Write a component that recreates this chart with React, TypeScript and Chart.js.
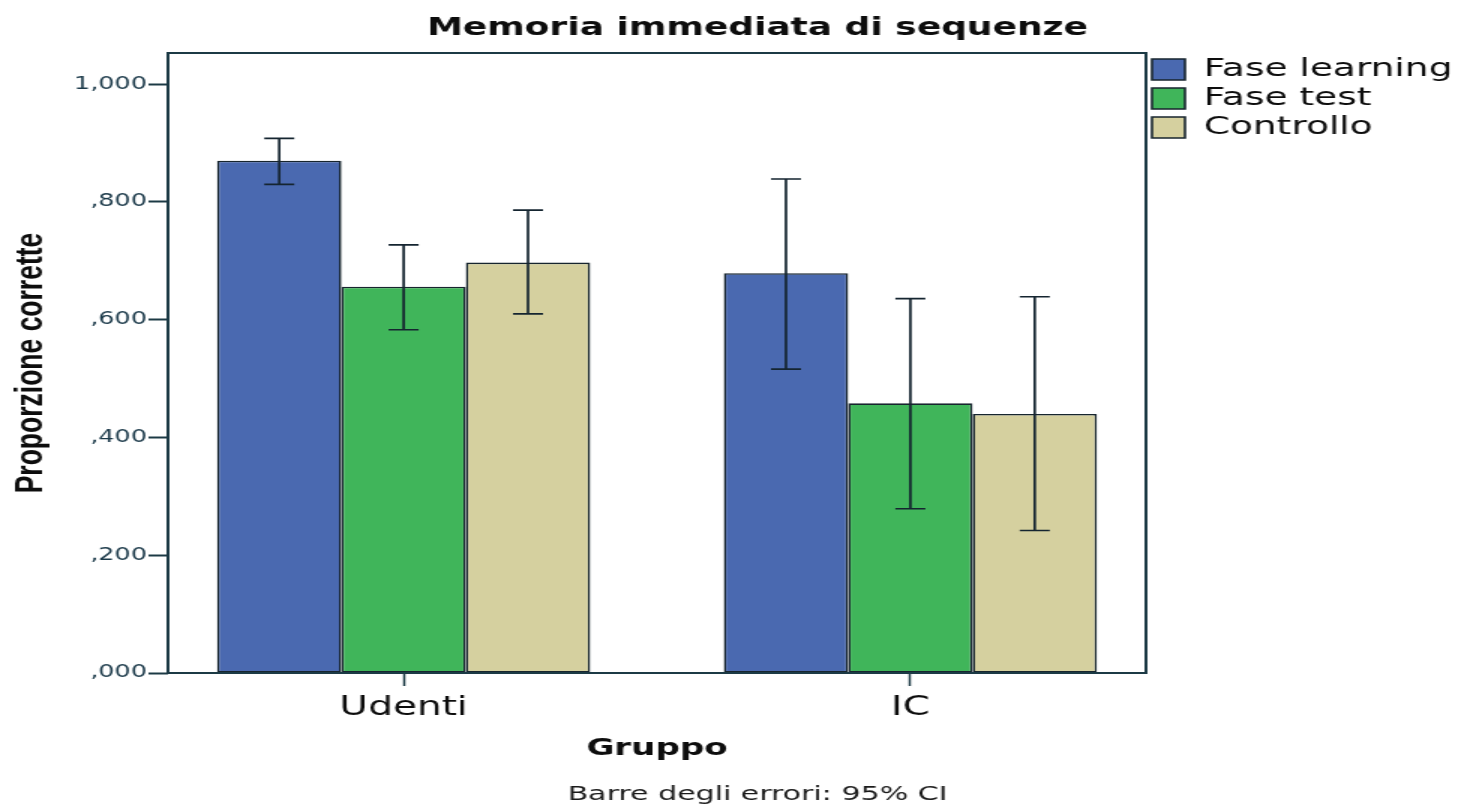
import React, { useEffect, useRef } from "react";
import { Chart, registerables } from "chart.js";

Chart.register(...registerables);

// ---- data ----
const groups = ["Udenti", "IC"];
const seriesLabels = ["Fase learning", "Fase test", "Controllo"];
const faseLearning = [0.870, 0.679];
const faseTest = [0.656, 0.458];
const controllo = [0.697, 0.440];
const faseLearningLow = [0.830, 0.516];
const faseLearningHigh = [0.908, 0.839];
const faseTestLow = [0.583, 0.279];
const faseTestHigh = [0.727, 0.636];
const controlloLow = [0.610, 0.242];
const controlloHigh = [0.786, 0.639];
const yTicks = [0, 0.2, 0.4, 0.6, 0.8, 1.0];
const chartTitle = "Memoria immediata di sequenze";
const footnote = "Barre degli errori: 95% CI";
const xTitle = "Gruppo";
const yTitle = "Proporzione corrette";

// ---- style ----
const colors = ["#4a69b0", "#40b55a", "#d5d09f"];
const frameColor = "#1c3a45";
const textColor = "#0d0d0d";
const S = 1.5; // horizontal stretch of the picture
const CSS_W = 1461;
const CSS_H = 806;
const W = Math.round(CSS_W / S);

const fmt = (v: number) => {
  const s = Number(v).toFixed(3).replace(".", ",");
  return s.startsWith("0") ? s.slice(1) : s;
};

export default function App() {
  const ref = useRef<HTMLCanvasElement | null>(null);

  useEffect(() => {
    const canvas = ref.current;
    if (!canvas) return;
    Chart.defaults.font.family = "'DejaVu Sans', sans-serif";

    const values = [faseLearning, faseTest, controllo];
    const lows = [faseLearningLow, faseTestLow, controlloLow];
    const highs = [faseLearningHigh, faseTestHigh, controlloHigh];

    const errorBars = {
      id: "errorBars",
      afterDatasetsDraw(chart: any) {
        const { ctx } = chart;
        const y = chart.scales.y;
        ctx.save();
        ctx.strokeStyle = "#152530";
        ctx.lineWidth = 1.7;
        values.forEach((_, i) => {
          const meta = chart.getDatasetMeta(i);
          meta.data.forEach((el: any, j: number) => {
            const x = el.x;
            const yl = y.getPixelForValue(lows[i][j]);
            const yh = y.getPixelForValue(highs[i][j]);
            const cap = 10;
            ctx.beginPath();
            ctx.moveTo(x, yl);
            ctx.lineTo(x, yh);
            ctx.moveTo(x - cap, yl);
            ctx.lineTo(x + cap, yl);
            ctx.moveTo(x - cap, yh);
            ctx.lineTo(x + cap, yh);
            ctx.stroke();
          });
        });
        // frame
        const a = chart.chartArea;
        ctx.strokeStyle = frameColor;
        ctx.lineWidth = 2;
        ctx.strokeRect(a.left, a.top, a.right - a.left, a.bottom - a.top);
        ctx.restore();
      },
    };

    const texts = {
      id: "texts",
      afterDraw(chart: any) {
        const { ctx } = chart;
        const cx = chart.width / 2 + 18;
        ctx.save();
        ctx.fillStyle = textColor;
        ctx.textAlign = "center";
        ctx.textBaseline = "middle";
        ctx.font = "bold 24px 'DejaVu Sans', sans-serif";
        ctx.fillText(chartTitle, cx, 29);
        ctx.fillStyle = "#1a1a1a";
        ctx.font = "20px 'DejaVu Sans', sans-serif";
        ctx.fillText(footnote, cx, 795);
        ctx.restore();
      },
    };

    const chart = new Chart(canvas, {
      type: "bar",
      data: {
        datasets: seriesLabels.map((label, i) => ({
          label,
          data: groups.map((_, j) => ({ x: j, y: values[i][j] })),
          backgroundColor: colors[i],
          borderColor: "#17252e",
          borderWidth: 1.6,
          borderSkipped: false,
          categoryPercentage: 0.7364,
          barPercentage: 1,
        })),
      },
      options: {
        animation: false,
        responsive: false,
        devicePixelRatio: 1,
        layout: { padding: { left: 0, right: 0, top: 53, bottom: 38 } },
        scales: {
          x: {
            type: "linear",
            min: -0.465,
            max: 1.465,
            offset: false,
            afterBuildTicks: (s: any) => {
              s.ticks = groups.map((_, i) => ({ value: i }));
            },
            afterFit: (s: any) => {
              s.height = 95;
            },
            ticks: {
              callback: (v: any) => groups[Number(v)] ?? "",
              font: { size: 26 },
              color: textColor,
              padding: 7,
              maxRotation: 0,
              autoSkip: false,
            },
            grid: {
              display: true,
              drawOnChartArea: false,
              drawTicks: true,
              tickLength: 13,
              tickColor: frameColor,
              tickWidth: 1.5,
              offset: false,
            },
            border: { display: false },
            title: {
              display: true,
              text: xTitle,
              font: { weight: "bold", size: 22.7 },
              color: textColor,
              padding: { top: 0, bottom: 5 },
            },
          },
          y: {
            type: "linear",
            min: 0,
            max: 1.053,
            afterBuildTicks: (s: any) => {
              s.ticks = yTicks.map((v) => ({ value: v }));
            },
            afterFit: (s: any) => {
              s.width = 112;
            },
            ticks: {
              callback: (v: any) => fmt(Number(v)),
              font: { size: 17 },
              color: "#1c3a4a",
              padding: 1,
            },
            grid: {
              display: true,
              drawOnChartArea: false,
              drawTicks: true,
              tickLength: 13,
              tickColor: frameColor,
              tickWidth: 2,
            },
            border: { display: false },
            title: {
              display: true,
              text: yTitle,
              font: { family: "'Liberation Sans', Arial, sans-serif", weight: "bold", size: 26.5 },
              color: textColor,
              padding: { top: 5, bottom: 0 },
            },
          },
        },
        plugins: {
          title: { display: false },
          tooltip: { enabled: false },
          legend: {
            display: true,
            position: "right",
            align: "start",
            fullSize: false,
            maxWidth: 210,
            labels: {
              boxWidth: 22,
              boxHeight: 21,
              padding: 4,
              color: textColor,
              font: { size: 25 },
            },
          },
        },
      },
      plugins: [errorBars, texts],
    } as any);

    return () => chart.destroy();
  }, []);

  return (
    <div style={{ position: "absolute", left: 0, top: 0, width: CSS_W, height: CSS_H, background: "#fff" }}>
      <canvas
        ref={ref}
        width={W}
        height={CSS_H}
        style={{ width: CSS_W + "px", height: CSS_H + "px", display: "block" }}
      />
    </div>
  );
}
